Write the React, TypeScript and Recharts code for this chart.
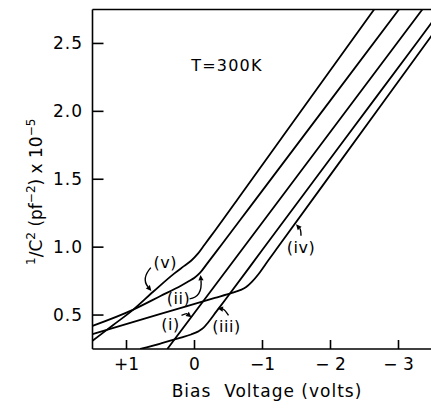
import React from "react";
import { LineChart, Line, XAxis, YAxis, ReferenceLine, ReferenceDot, Label } from "recharts";

const FONT = "DejaVu Sans";

// Axis ticks
const xTicks = [1, 0, -1, -2, -3];
const xTickLabels = ["+1", "0", "\u22121", "\u2212 2", "\u2212 3"];
const yTicks = [0.5, 1.0, 1.5, 2.0, 2.5];
const yTickLabels = ["0.5", "1.0", "1.5", "2.0", "2.5"];

// Curves: v = bias voltage (volts), y = 1/C^2 (pf^-2) x 1e-5
const curveI = [
  { v: 0.4, y: 0.25 },
  { v: -1.5, y: 1.517 },
  { v: -3.35, y: 2.75 },
];
const curveII = [
  { v: 1.5, y: 0.42 },
  { v: 0.9, y: 0.54 },
  { v: 0.5, y: 0.64 },
  { v: 0.2, y: 0.716 },
  { v: 0.08, y: 0.75 },
  { v: 0.0, y: 0.775 },
  { v: -0.08, y: 0.81 },
  { v: -0.18, y: 0.875 },
  { v: -0.4, y: 1.02 },
  { v: -0.809, y: 1.291 },
  { v: -2.01, y: 2.088 },
  { v: -3.006, y: 2.75 },
];
const curveIII = [
  { v: 0.8, y: 0.25 },
  { v: 0.5, y: 0.29 },
  { v: 0.2, y: 0.333 },
  { v: 0.05, y: 0.357 },
  { v: -0.05, y: 0.378 },
  { v: -0.13, y: 0.405 },
  { v: -0.2, y: 0.445 },
  { v: -0.32, y: 0.525 },
  { v: -0.45, y: 0.611 },
  { v: -1.004, y: 0.984 },
  { v: -2.647, y: 2.088 },
  { v: -3.5, y: 2.661 },
];
const curveIV = [
  { v: 1.5, y: 0.36 },
  { v: 0.5, y: 0.508 },
  { v: -0.3, y: 0.626 },
  { v: -0.55, y: 0.663 },
  { v: -0.68, y: 0.685 },
  { v: -0.76, y: 0.706 },
  { v: -0.84, y: 0.742 },
  { v: -0.94, y: 0.8 },
  { v: -1.05, y: 0.878 },
  { v: -1.201, y: 0.982 },
  { v: -2.794, y: 2.08 },
  { v: -3.5, y: 2.566 },
];
const curveV = [
  { v: 1.5, y: 0.31 },
  { v: 1.2, y: 0.425 },
  { v: 0.9, y: 0.54 },
  { v: 0.6, y: 0.675 },
  { v: 0.3, y: 0.805 },
  { v: 0.15, y: 0.862 },
  { v: 0.05, y: 0.9 },
  { v: -0.05, y: 0.952 },
  { v: -0.15, y: 1.02 },
  { v: -0.3, y: 1.121 },
  { v: -0.637, y: 1.355 },
  { v: -1.691, y: 2.089 },
  { v: -2.641, y: 2.75 },
];

const series = [curveI, curveII, curveIII, curveIV, curveV];

// Curve label anchors (data coordinates)
const labelTexts = ["(i)", "(ii)", "(iii)", "(iv)", "(v)"];
const labelV = [0.353, 0.235, -0.471, -1.566, 0.429];
const labelY = [0.432, 0.619, 0.417, 0.995, 0.886];

const tempText = "T=300K";
const tempV = -0.478;
const tempY = 2.339;

// Arrow shapes relative to label center (pixels): start, control, end
const arrowGeom: Record<string, number[]> = {
  "(i)": [11, -9, 16, -11, 21, -7],
  "(ii)": [11, 0, 24, -2, 22, -24],
  "(iii)": [2, -11, -2, -17, -9, -18],
  "(iv)": [0, -12, 0, -18, -5, -23.5],
  "(v)": [-14.5, 5, -24, 16, -14, 28.4],
};

function LabelShape(props: any) {
  const { cx, cy, text } = props;
  const g = arrowGeom[text];
  let arrow = null;
  if (g) {
    const [sx, sy, qx, qy, ex, ey] = g;
    const tx = cx + ex, ty = cy + ey;
    let dx = ex - qx, dy = ey - qy;
    const len = Math.hypot(dx, dy) || 1;
    dx /= len; dy /= len;
    const L = 5.5, W = 2.6;
    const bx = tx - dx * L, by = ty - dy * L;
    const pts = `${tx},${ty} ${bx - dy * W},${by + dx * W} ${bx + dy * W},${by - dx * W}`;
    arrow = (
      <g>
        <path
          d={`M ${cx + sx} ${cy + sy} Q ${cx + qx} ${cy + qy} ${bx} ${by}`}
          fill="none"
          stroke="#000"
          strokeWidth={1.4}
        />
        <polygon points={pts} fill="#000" />
      </g>
    );
  }
  return (
    <g>
      <text
        x={cx}
        y={cy}
        textAnchor="middle"
        dominantBaseline="central"
        fontFamily={FONT}
        fontSize={16}
        letterSpacing={0.5}
        fill="#000"
      >
        {text}
      </text>
      {arrow}
    </g>
  );
}

function TempShape(props: any) {
  const { cx, cy } = props;
  return (
    <text
      x={cx}
      y={cy}
      textAnchor="middle"
      dominantBaseline="central"
      fontFamily={FONT}
      fontSize={16}
      letterSpacing={1.2}
      fill="#000"
    >
      {tempText}
    </text>
  );
}

function XLabel(props: any) {
  const vb = props.viewBox || { x: 92.5, y: 349, width: 340, height: 59 };
  return (
    <text
      x={vb.x + vb.width / 2 + 4.5}
      y={vb.y + 47.5}
      textAnchor="middle"
      fontFamily={FONT}
      fontSize={17}
      letterSpacing={1}
      fill="#000"
    >
      {"Bias\u00A0 Voltage (volts)"}
    </text>
  );
}

function YLabel(props: any) {
  const vb = props.viewBox || { x: 0, y: 9.5, width: 92.5, height: 339.5 };
  const x = vb.x + 42;
  const y = vb.y + vb.height / 2 + 12.5;
  return (
    <text
      x={x}
      y={y}
      transform={`rotate(-90, ${x}, ${y})`}
      textAnchor="middle"
      fontFamily={FONT}
      fontSize={17}
      fill="#000"
    >
      <tspan fontSize={12} dy={-7}>1</tspan>
      <tspan dy={7}>/C</tspan>
      <tspan fontSize={12} dy={-7}>2</tspan>
      <tspan dy={7}> (pf</tspan>
      <tspan fontSize={12} dy={-7}>{"\u22122"}</tspan>
      <tspan dy={7}>) x 10</tspan>
      <tspan fontSize={12} dy={-7}>{"\u22125"}</tspan>
    </text>
  );
}

export default function App() {
  return (
    <div
      style={{
        position: "absolute",
        left: 0,
        top: 0,
        width: 431,
        height: 408,
        overflow: "hidden",
        background: "#fff",
      }}
    >
      <LineChart
        width={440}
        height={408}
        margin={{ top: 9.5, right: 7.5, left: 0, bottom: 0 }}
      >
        <XAxis
          type="number"
          dataKey="v"
          domain={[-3.5, 1.5]}
          reversed
          allowDataOverflow
          ticks={xTicks}
          interval={0}
          tickFormatter={(t: number) => xTickLabels[xTicks.indexOf(t)] ?? String(t)}
          height={59}
          tickSize={-9}
          tickMargin={18}
          axisLine={{ stroke: "#000", strokeWidth: 1.6 }}
          tickLine={{ stroke: "#000", strokeWidth: 1.6 }}
          tick={{ fill: "#000", fontSize: 17, fontFamily: FONT }}
        >
          <Label content={XLabel} />
        </XAxis>
        <YAxis
          type="number"
          domain={[0.25, 2.75]}
          allowDataOverflow
          ticks={yTicks}
          interval={0}
          tickFormatter={(t: number) => yTickLabels[yTicks.indexOf(t)] ?? String(t)}
          width={92.5}
          tickSize={-11}
          tickMargin={20.5}
          axisLine={{ stroke: "#000", strokeWidth: 1.6 }}
          tickLine={{ stroke: "#000", strokeWidth: 1.6 }}
          tick={{ fill: "#000", fontSize: 17, fontFamily: FONT, letterSpacing: 1 }}
        >
          <Label content={YLabel} />
        </YAxis>
        <ReferenceLine y={2.75} stroke="#000" strokeWidth={1.6} ifOverflow="visible" />
        {series.map((d, i) => (
          <Line
            key={i}
            data={d}
            dataKey="y"
            type="monotone"
            stroke="#000"
            strokeWidth={1.8}
            dot={false}
            activeDot={false}
            isAnimationActive={false}
          />
        ))}
        {labelTexts.map((t, i) => (
          <ReferenceDot
            key={t}
            x={labelV[i]}
            y={labelY[i]}
            r={0}
            ifOverflow="visible"
            shape={(p: any) => <LabelShape {...p} text={t} />}
          />
        ))}
        <ReferenceDot
          x={tempV}
          y={tempY}
          r={0}
          ifOverflow="visible"
          shape={(p: any) => <TempShape {...p} />}
        />
      </LineChart>
    </div>
  );
}
